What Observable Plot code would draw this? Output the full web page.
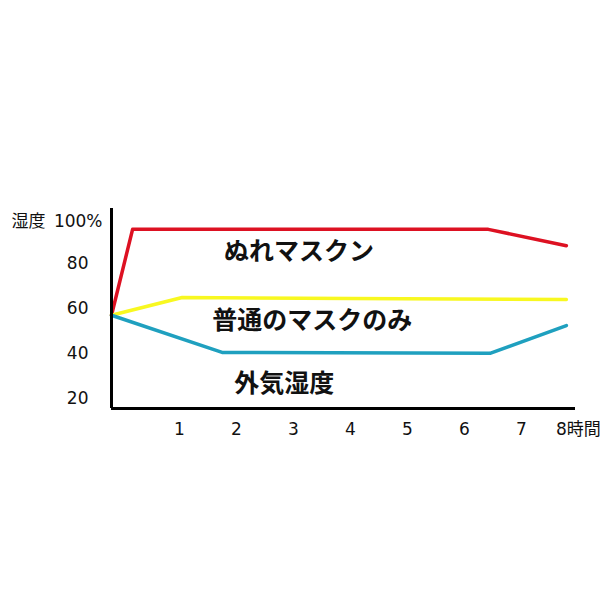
<!DOCTYPE html>
<html><head><meta charset="utf-8">
<script src="https://cdn.jsdelivr.net/npm/d3@7"></script>
<script src="https://cdn.jsdelivr.net/npm/@observablehq/plot@0.6"></script>
<style>body{margin:0;background:#fff}</style>
</head><body><div id="chart"></div>
<script>
// Series (hours, humidity %)
const wetX = [-0.19, 0.18, 6.42, 7.79];
const wetY = [57, 95.3, 95.3, 88];
const plainX = [-0.19, 1.05, 4, 7.79];
const plainY = [57, 64.9, 64.5, 64];
const outerX = [-0.19, 1.75, 6.45, 7.79];
const outerY = [57, 40.4, 40, 52.4];

// Series names and label positions
const seriesNames = ["ぬれマスクン", "普通のマスクのみ", "外気湿度"];
const nameX = [3.1, 3.33, 2.84];
const nameY = [85, 54.6, 26.5];

// Ticks
const xTicks = [1, 2, 3, 4, 5, 6, 7, 8];
const xTickLabels = ["1", "2", "3", "4", "5", "6", "7", "8時間"];
const yTicks = [20, 40, 60, 80];
const yTitle = "湿度\u2002100%";

const x0 = -0.19, x1 = 7.95, y0 = 15.4, y1 = 104.6;

const toRows = (xs, ys) => xs.map((x, i) => ({x, y: ys[i]}));

const chart = Plot.plot({
  width: 600, height: 600,
  marginLeft: 111, marginRight: 25, marginTop: 208, marginBottom: 192,
  style: {fontFamily: "'DejaVu Sans', 'Noto Sans CJK JP', sans-serif", fontSize: "17px", color: "#111", background: "#fff"},
  x: {domain: [x0, x1], axis: null},
  y: {domain: [y0, y1], axis: null},
  marks: [
    Plot.line(toRows(wetX, wetY), {x: "x", y: "y", stroke: "#dd1122", strokeWidth: 3.5}),
    Plot.line(toRows(plainX, plainY), {x: "x", y: "y", stroke: "#f8f820", strokeWidth: 3.5}),
    Plot.line(toRows(outerX, outerY), {x: "x", y: "y", stroke: "#1fa0bf", strokeWidth: 3.5}),
    Plot.ruleX([x0], {stroke: "#000", strokeWidth: 3}),
    Plot.ruleY([y0], {stroke: "#000", strokeWidth: 3}),
    Plot.axisY(yTicks, {tickSize: 0, tickPadding: 23, label: null, fontSize: 17}),
    Plot.axisX(xTicks, {anchor: "bottom", tickSize: 0, tickPadding: 14, label: null, fontSize: 17,
      tickFormat: d => xTickLabels[xTicks.indexOf(d)]}),
    Plot.text([{t: yTitle, v: 100}], {x: () => x0, y: "v", text: "t", dx: -9, dy: 3, textAnchor: "end", fontSize: 17}),
    Plot.text(seriesNames.map((t, i) => ({t, x: nameX[i], y: nameY[i]})),
      {x: "x", y: "y", text: "t", fontSize: 25, fontWeight: "bold", fontFamily: "'Noto Sans CJK JP'", fill: "#111"})
  ]
});
document.getElementById("chart").appendChild(chart);
</script>
</body></html>
